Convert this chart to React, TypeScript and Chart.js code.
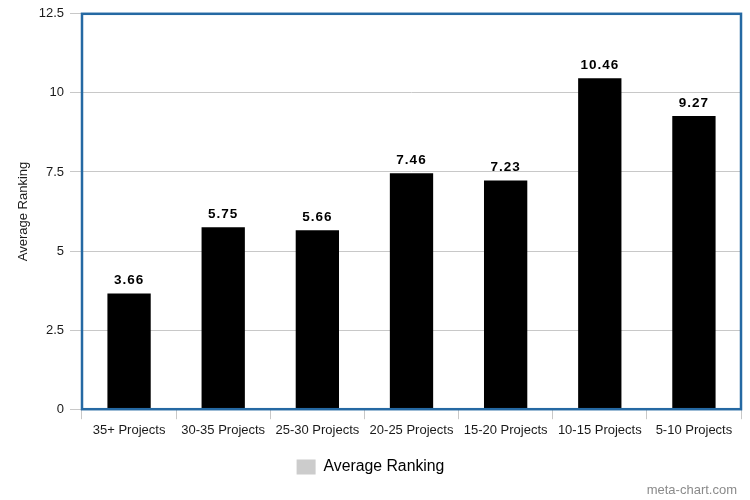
import React, { useEffect, useRef } from "react";
import { Chart, registerables } from "chart.js";

Chart.register(...registerables);

const categories = [
  "35+ Projects",
  "30-35 Projects",
  "25-30 Projects",
  "20-25 Projects",
  "15-20 Projects",
  "10-15 Projects",
  "5-10 Projects",
];
const values = [3.66, 5.75, 5.66, 7.46, 7.23, 10.46, 9.27];
const seriesName = "Average Ranking";
const axisTitle = "Average Ranking";
const watermark = "meta-chart.com";

const FONT = "'Liberation Sans', Arial, Helvetica, sans-serif";

const decorPlugin = {
  id: "decor",
  afterDatasetsDraw(chart: any) {
    const { ctx, chartArea } = chart;
    ctx.save();
    ctx.strokeStyle = "#2569a3";
    ctx.lineWidth = 2.5;
    ctx.strokeRect(
      chartArea.left,
      chartArea.top,
      chartArea.right - chartArea.left,
      chartArea.bottom - chartArea.top
    );
    const meta = chart.getDatasetMeta(0);
    ctx.fillStyle = "#000";
    ctx.font = `bold 13.5px ${FONT}`;
    ctx.textAlign = "center";
    ctx.textBaseline = "bottom";
    try {
      (ctx as any).letterSpacing = "1px";
    } catch (e) {}
    meta.data.forEach((bar: any, i: number) => {
      ctx.fillText(values[i].toFixed(2), bar.x, bar.y - 6);
    });
    try {
      (ctx as any).letterSpacing = "0px";
    } catch (e) {}
    ctx.fillStyle = "#8a8a8a";
    ctx.font = `13px ${FONT}`;
    ctx.textAlign = "right";
    ctx.textBaseline = "middle";
    ctx.fillText(watermark, 737, 490);
    ctx.restore();
  },
};

export default function App() {
  const ref = useRef<HTMLCanvasElement | null>(null);
  useEffect(() => {
    document.body.style.margin = "0";
    if (!ref.current) return;
    const chart = new Chart(ref.current, {
      type: "bar",
      data: {
        labels: categories,
        datasets: [
          {
            label: seriesName,
            data: values,
            backgroundColor: "#000000",
            borderWidth: 0,
            barPercentage: 0.46,
            categoryPercentage: 1,
          },
        ],
      },
      options: {
        animation: false,
        responsive: false,
        devicePixelRatio: 1,
        layout: { padding: { top: 12, right: 9, left: 0, bottom: 15 } },
        plugins: {
          tooltip: { enabled: false },
          legend: {
            position: "bottom",
            labels: {
              boxWidth: 19,
              boxHeight: 15,
              padding: 10,
              color: "#3a3a3a",
              font: { family: FONT, size: 15.8 },
              generateLabels: () => [
                {
                  text: seriesName,
                  fillStyle: "#cccccc",
                  strokeStyle: "#cccccc",
                  lineWidth: 0,
                  hidden: false,
                  datasetIndex: 0,
                },
              ],
            },
          },
        },
        scales: {
          x: {
            grid: {
              offset: true,
              drawOnChartArea: false,
              drawTicks: true,
              tickLength: 10,
              color: "#c8c8c8",
            },
            border: { display: false },
            ticks: {
              color: "#1a1a1a",
              font: { family: FONT, size: 13 },
              padding: 3,
              maxRotation: 0,
              autoSkip: false,
            },
            afterFit: (scale: any) => {
              scale.height = 40;
            },
          },
          y: {
            min: 0,
            max: 12.5,
            grid: {
              color: "#c8c8c8",
              tickLength: 12,
              lineWidth: 1,
            },
            border: { display: false },
            ticks: {
              stepSize: 2.5,
              color: "#1a1a1a",
              font: { family: FONT, size: 13 },
              padding: 6,
            },
            title: {
              display: true,
              text: axisTitle,
              color: "#1a1a1a",
              font: { family: FONT, size: 13 },
              padding: { top: 16, bottom: 0 },
            },
            afterFit: (scale: any) => {
              scale.width = 82;
            },
          },
        },
      },
      plugins: [decorPlugin],
    });
    return () => chart.destroy();
  }, []);
  return (
    <div style={{ width: 750, height: 500, background: "#fff" }}>
      <canvas ref={ref} width={750} height={500} />
    </div>
  );
}
